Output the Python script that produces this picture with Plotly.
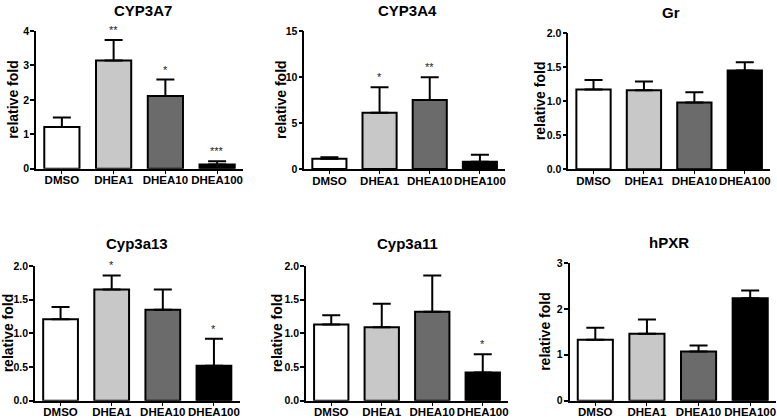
import plotly.graph_objects as go

categories = ["DMSO", "DHEA1", "DHEA10", "DHEA100"]
bar_colors = ["#ffffff", "#c8c8c8", "#6b6b6b", "#000000"]

titles = ["CYP3A7", "CYP3A4", "Gr", "Cyp3a13", "Cyp3a11", "hPXR"]

cyp3a7_mean = [1.21, 3.14, 2.11, 0.12]
cyp3a7_err = [0.28, 0.60, 0.48, 0.10]
cyp3a7_sig = ["", "**", "*", "***"]

cyp3a4_mean = [1.12, 6.12, 7.50, 0.80]
cyp3a4_err = [0.15, 2.76, 2.46, 0.76]
cyp3a4_sig = ["", "*", "**", ""]

gr_mean = [1.17, 1.16, 0.98, 1.45]
gr_err = [0.14, 0.13, 0.15, 0.12]
gr_sig = ["", "", "", ""]

cyp3a13_mean = [1.21, 1.65, 1.35, 0.52]
cyp3a13_err = [0.18, 0.21, 0.30, 0.40]
cyp3a13_sig = ["", "*", "", "*"]

cyp3a11_mean = [1.13, 1.09, 1.32, 0.42]
cyp3a11_err = [0.14, 0.35, 0.54, 0.27]
cyp3a11_sig = ["", "", "", "*"]

hpxr_mean = [1.33, 1.46, 1.07, 2.23]
hpxr_err = [0.26, 0.31, 0.13, 0.17]
hpxr_sig = ["", "", "", ""]

y_ranges = [[0, 4], [0, 15], [0, 2], [0, 2], [0, 2], [0, 3]]
y_dticks = [1, 5, 0.5, 0.5, 0.5, 1]
y_formats = ["d", "d", ".1f", ".1f", ".1f", "d"]

means = [cyp3a7_mean, cyp3a4_mean, gr_mean, cyp3a13_mean, cyp3a11_mean, hpxr_mean]
errs = [cyp3a7_err, cyp3a4_err, gr_err, cyp3a13_err, cyp3a11_err, hpxr_err]
sigs = [cyp3a7_sig, cyp3a4_sig, gr_sig, cyp3a13_sig, cyp3a11_sig, hpxr_sig]

W, H = 777, 418
# plot-area pixel boxes: (x0, x1, ytop, ybottom)
boxes = [
    (36, 243, 31, 168.7),
    (304.3, 505, 31, 169),
    (568.3, 770, 33, 169.3),
    (35, 239.5, 266, 400.7),
    (306, 508, 266, 400.7),
    (569.5, 776, 263, 400.7),
]
ytitle_x = [13, 281, 540, 8, 277, 545]
title_pos = [(143, 10), (408, 10), (671, 12), (137, 243), (407, 243), (669, 242)]

FONT = "Arial, Liberation Sans, sans-serif"

fig = go.Figure()
layout = dict(
    width=W, height=H,
    margin=dict(l=0, r=0, t=0, b=0, autoexpand=False),
    paper_bgcolor="white", plot_bgcolor="white",
    showlegend=False, bargap=0.32,
    font=dict(family=FONT, color="black"),
)
annotations = []

for i in range(6):
    n = i + 1
    xa = "x" if n == 1 else f"x{n}"
    ya = "y" if n == 1 else f"y{n}"
    x0, x1, yt, yb = boxes[i]
    fig.add_trace(go.Bar(
        x=categories, y=means[i], xaxis=xa, yaxis=ya,
        marker=dict(color=bar_colors, line=dict(color="black", width=2)),
        error_y=dict(type="data", symmetric=False, array=errs[i],
                     arrayminus=[0] * 4, color="black", thickness=2, width=9),
        cliponaxis=False,
    ))
    layout[f"xaxis{'' if n == 1 else n}"] = dict(
        domain=[x0 / W, x1 / W], anchor=ya, showline=True, linecolor="black",
        linewidth=1.6, ticks="outside", ticklen=3, tickwidth=1.2, tickcolor="black",
        showgrid=False, zeroline=False, tickangle=0, automargin=False,
        ticklabelstandoff=-3,
        tickfont=dict(size=11.5, weight="bold", family=FONT, color="black"),
        range=[-0.5, 3.5], fixedrange=True,
    )
    layout[f"yaxis{'' if n == 1 else n}"] = dict(
        domain=[1 - yb / H, 1 - yt / H], anchor=xa, showline=True, linecolor="black",
        linewidth=1.6, ticks="outside", ticklen=4, tickwidth=1.6, tickcolor="black",
        range=y_ranges[i], dtick=y_dticks[i], tick0=0, tickformat=y_formats[i],
        showgrid=False, zeroline=False, automargin=False, ticklabelstandoff=-1,
        tickfont=dict(size=10.5, weight="bold", family=FONT, color="black"),
    )
    tx, ty = title_pos[i]
    annotations.append(dict(
        text=titles[i], xref="paper", yref="paper",
        x=tx / W, y=1 - ty / H, xanchor="center", yanchor="middle",
        showarrow=False, font=dict(size=15, weight="bold", family=FONT, color="black"),
    ))
    annotations.append(dict(
        text="relative fold", xref="paper", yref="paper", textangle=-90,
        x=ytitle_x[i] / W, y=1 - ((yt + yb) / 2) / H, xanchor="center", yanchor="middle",
        showarrow=False, font=dict(size=14, weight="bold", family=FONT, color="black"),
    ))
    for j, s in enumerate(sigs[i]):
        if s:
            annotations.append(dict(
                text=s, xref=xa, yref=ya, x=categories[j], y=means[i][j] + errs[i][j],
                yanchor="bottom", yshift=2, showarrow=False,
                font=dict(size=11, family=FONT, color="#222222"),
            ))

layout["annotations"] = annotations
fig.update_layout(**layout)
fig.write_html(
    "out.html",
    config={"displayModeBar": False},
    post_script="document.body.style.margin='0';document.body.style.overflow='hidden';",
)
